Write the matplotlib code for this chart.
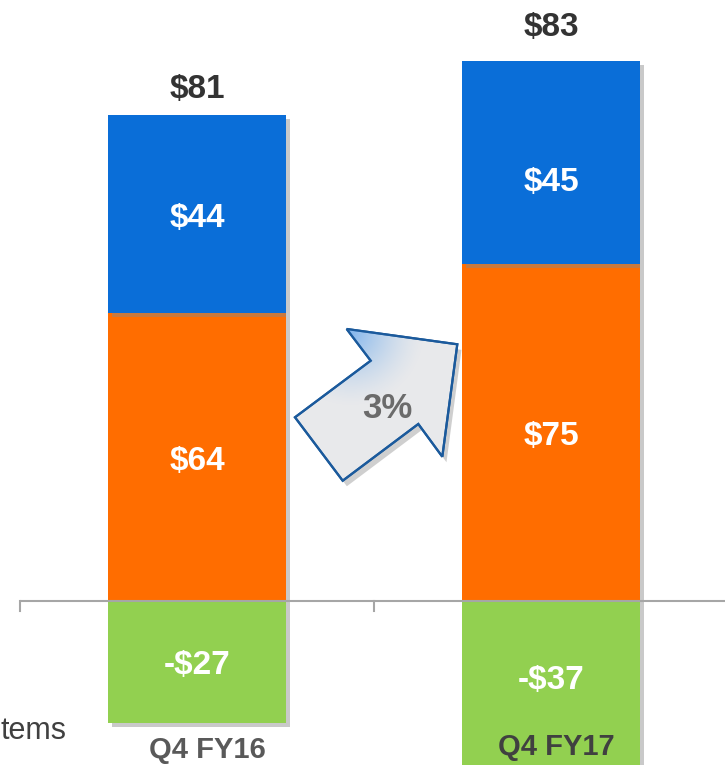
import numpy as np
import matplotlib
matplotlib.use("Agg")
import matplotlib.pyplot as plt
import matplotlib.patheffects as pe
from matplotlib.patches import Polygon

plt.rcParams["font.family"] = ["Liberation Sans", "DejaVu Sans"]

# data
quarters = ["Q4 FY16", "Q4 FY17"]
orange_vals = [64, 75]
blue_vals = [44, 45]
green_vals = [-27, -37]
growth_label = "3%"
side_label = "tems"

c_blue = "#0A6ED8"
c_orange = "#FF6D00"
c_green = "#92D050"

W, H = 725, 765
fig = plt.figure(figsize=(W / 100, H / 100), dpi=100)
ax = fig.add_axes([0, 0, 1, 1])

# pixel layout: bar centres at 197 / 551 px, zero line at 601 px, 4.5 px per unit
x0_px, step_px, zero_px, unit_px = 197, 354, 601, 4.5
ax.set_xlim(-x0_px / step_px, (W - x0_px) / step_px)
ax.set_ylim(-(H - zero_px) / unit_px, zero_px / unit_px)
ax.axis("off")

x = np.arange(len(quarters))
width = 178 / step_px
shadow = [pe.SimplePatchShadow(offset=(3, -3), shadow_rgbFace="#888888", alpha=0.45), pe.Normal()]

b1 = ax.bar(x, orange_vals, width, color=c_orange, zorder=2)
b2 = ax.bar(x, blue_vals, width, bottom=orange_vals, color=c_blue, zorder=2)
b3 = ax.bar(x, green_vals, width, color=c_green, zorder=2)
for bars in (b1, b2, b3):
    for p in bars:
        p.set_path_effects(shadow)

# zero line with category separators
ax.plot([-0.5, 2], [0, 0], color="#A6A6A6", lw=1.5, zorder=3, solid_capstyle="butt")
for t in [-0.5, 0.5, 1.5]:
    ax.plot([t, t], [0, -10 / unit_px], color="#A6A6A6", lw=1.5, zorder=3)

lab = dict(ha="center", va="center", color="white", fontweight="bold", fontsize=24, zorder=5)
dy = -0.9
blue_shift = [0, -3.6]
green_shift = [0, 1.8]
total_shift = [5.75, 7.5]
for i in range(len(quarters)):
    ax.text(x[i], orange_vals[i] / 2 + dy, f"${orange_vals[i]}", **lab)
    ax.text(x[i], orange_vals[i] + blue_vals[i] / 2 + blue_shift[i] + dy, f"${blue_vals[i]}", **lab)
    ax.text(x[i], green_vals[i] / 2 + green_shift[i] + dy, f"-${-green_vals[i]}", **lab)
    total = orange_vals[i] + blue_vals[i] + green_vals[i]
    ax.text(x[i], orange_vals[i] + blue_vals[i] + total_shift[i], f"${total}", ha="center", va="center",
            color="#333333", fontweight="bold", fontsize=24, zorder=5)

ax.text(x[0] + 0.03, -33.2, quarters[0], ha="center", va="center", color="#595959",
        fontweight="bold", fontsize=21, zorder=5)
ax.text(x[1] + 0.015, -32.4, quarters[1], ha="center", va="center", color="#404040",
        fontweight="bold", fontsize=21, zorder=5)

ax.text(0.5 / W, 1 - 731 / H, side_label, transform=ax.transAxes, ha="left", va="center",
        color="#404040", fontsize=22)

# growth arrow (figure pixel coordinates)
arrow_px = [(346.7, 329), (457.3, 344.3), (442.3, 456.7), (418.3, 424),
            (342.7, 480.7), (295, 417.3), (370.7, 360.7)]
arrow_xy = [(px / W, 1 - py / H) for px, py in arrow_px]
arrow = Polygon(arrow_xy, closed=True, transform=ax.transAxes, facecolor="#E8E9EB",
                edgecolor="#1B5A9C", lw=1.6, zorder=6)
arrow.set_path_effects([pe.SimplePatchShadow(offset=(3, -4), shadow_rgbFace="#777777", alpha=0.35),
                        pe.Normal()])
ax.add_patch(arrow)

# soft blue glow in the arrow head corner
gx0, gx1, gy0, gy1 = 290, 460, 325, 485
gxx, gyy = np.meshgrid(np.linspace(gx0, gx1, 200), np.linspace(gy0, gy1, 200))
d = np.hypot(gxx - 350, gyy - 332) / 75
a = np.clip(1 - d, 0, 1) ** 1.5
img = np.zeros((200, 200, 4))
img[..., 0] = 0.45
img[..., 1] = 0.68
img[..., 2] = 0.93
img[..., 3] = a * 0.85
im = ax.imshow(img, extent=(gx0 / W, gx1 / W, 1 - gy1 / H, 1 - gy0 / H), origin="upper",
               transform=ax.transAxes, zorder=6.5, interpolation="bilinear", aspect="auto")
clip = Polygon(arrow_xy, closed=True, transform=ax.transAxes, facecolor="none", edgecolor="none")
ax.add_patch(clip)
im.set_clip_path(clip)
edge = Polygon(arrow_xy, closed=True, transform=ax.transAxes, facecolor="none",
               edgecolor="#1B5A9C", lw=1.6, zorder=7)
ax.add_patch(edge)

ax.text(387 / W, 1 - 409 / H, growth_label, transform=ax.transAxes, ha="center", va="center",
        color="#6B6B6B", fontweight="bold", fontsize=25, zorder=8)

fig.savefig("out.png", dpi=100)
